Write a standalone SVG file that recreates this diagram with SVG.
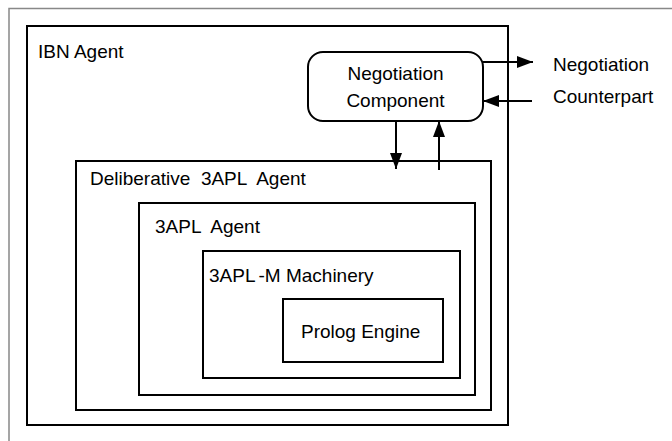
<svg xmlns="http://www.w3.org/2000/svg" width="672" height="441" viewBox="0 0 672 441">
<style>
text{font-family:"Liberation Sans",Arial,sans-serif;font-size:19px;fill:#000;white-space:pre}
.box{fill:none;stroke:#000;stroke-width:2}
.frame{fill:none;stroke:#888;stroke-width:1.5}
.c{stroke:#000;stroke-width:2;fill:none}
</style>
<defs>
<marker id="ah" markerWidth="10" markerHeight="10" refX="9" refY="5" orient="auto" markerUnits="userSpaceOnUse" viewBox="0 0 10 10">
<path d="M0,0 L10,5 L0,10 z" fill="#000"/>
</marker>
<marker id="ah2" markerWidth="16" markerHeight="12" refX="16" refY="6" orient="auto" markerUnits="userSpaceOnUse" viewBox="0 0 16 12">
<path d="M0,0 L16,6 L0,12 z" fill="#000"/>
</marker>
</defs>
<path class="frame" d="M9,441 V8.5 H672"/>
<g id="ibn-agent">
<rect class="box" x="27" y="26" width="481" height="399"/>
<text x="38" y="58">IBN Agent</text>
</g>
<g id="negotiation-component">
<rect class="box" x="308" y="52" width="175" height="69" rx="15"/>
<text x="395.5" y="80" text-anchor="middle">Negotiation</text>
<text x="395.5" y="107" text-anchor="middle">Component</text>
</g>
<g id="negotiation-counterpart">
<text x="553" y="71">Negotiation</text>
<text x="553" y="103">Counterpart</text>
</g>
<g id="deliberative-3apl-agent">
<rect class="box" x="76" y="161" width="415" height="249"/>
<text x="90" y="185">Deliberative  3APL  Agent</text>
</g>
<g id="3apl-agent">
<rect class="box" x="139" y="203" width="336" height="192"/>
<text x="155" y="233">3APL  Agent</text>
</g>
<g id="3apl-m-machinery">
<rect class="box" x="203" y="251" width="257" height="127"/>
<text x="209" y="282">3APL<tspan dx="3">-</tspan>M Machinery</text>
</g>
<g id="prolog-engine">
<rect class="box" x="283" y="299" width="160" height="63"/>
<text x="301" y="338">Prolog Engine</text>
</g>
<g id="connectors">
<line class="c" x1="483" y1="62" x2="533" y2="62" marker-end="url(#ah2)"/>
<line class="c" x1="532" y1="101" x2="483" y2="101" marker-end="url(#ah2)"/>
<line class="c" x1="396" y1="121" x2="396" y2="169" marker-end="url(#ah2)"/>
<line class="c" x1="439" y1="170" x2="439" y2="121" marker-end="url(#ah2)"/>
</g>
</svg>
